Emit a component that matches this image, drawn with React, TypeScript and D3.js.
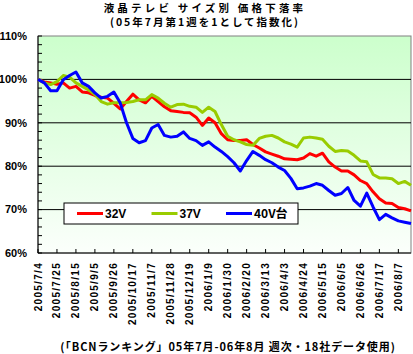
import * as d3 from 'd3'

// weekly index (2005/7/4 = 1.0), labels shown every 3 weeks
const tickLabels = [
  '2005/7/4', '2005/7/25', '2005/8/15', '2005/9/5', '2005/9/26', '2005/10/17', '2005/11/7',
  '2005/11/28', '2005/12/19', '2006/1/9', '2006/1/30', '2006/2/20', '2006/3/13', '2006/4/3',
  '2006/4/24', '2006/5/15', '2006/6/5', '2006/6/26', '2006/7/17', '2006/8/7',
]
const tickEvery = 3
const yTicks = [60, 70, 80, 90, 100, 110]

const s32 = [
  100, 99.4, 99.2, 98.9, 99.2, 98.0, 98.4, 97.1, 96.9, 96.3,
  95.9, 95.7, 94.5, 93.2, 94.9, 96.6, 95.3, 94.6, 96.1, 94.9,
  93.7, 92.8, 92.6, 92.4, 92.3, 91.3, 89.4, 91.1, 90.0, 87.5,
  86.1, 85.9, 85.9, 86.1, 85.0, 84.2, 83.3, 82.8, 82.3, 81.7,
  81.6, 81.5, 81.9, 82.9, 82.3, 83.0, 81.0, 79.8, 78.9, 78.9,
  78.0, 76.7, 76.0, 74.1, 72.5, 71.5, 71.4, 70.5, 70.2, 69.7,
]
const s37 = [
  100, 99.2, 98.8, 99.5, 100.9, 100.5, 99.2, 98.4, 97.6, 96.5,
  94.9, 94.3, 94.6, 94.6, 94.7, 94.9, 95.3, 95.3, 96.5, 95.7,
  94.5, 93.6, 94.2, 94.3, 93.8, 93.6, 92.4, 93.6, 92.6, 89.6,
  86.9, 86.1, 85.6, 85.0, 84.8, 86.4, 86.9, 87.1, 86.5, 85.6,
  85.1, 84.4, 86.5, 86.7, 86.5, 86.2, 84.6, 83.4, 83.6, 83.5,
  82.5, 81.2, 81.0, 78.1, 77.3, 77.3, 77.1, 76.0, 76.5, 75.6,
]
const s40 = [
  100, 99.2, 97.4, 97.4, 99.9, 100.9, 101.7, 99.2, 98.4, 96.9,
  95.7, 96.1, 97.1, 94.6, 90.0, 86.4, 85.4, 85.9, 88.8, 89.6,
  87.1, 86.7, 86.9, 87.9, 86.4, 85.9, 84.8, 85.6, 84.4, 83.4,
  82.2, 80.8, 78.9, 81.3, 83.4, 82.5, 81.5, 80.8, 79.8, 79.0,
  77.2, 74.8, 75.0, 75.4, 76.0, 75.6, 74.4, 73.3, 73.7, 75.1,
  72.1, 70.8, 73.8, 70.6, 67.7, 68.9, 68.1, 67.4, 67.1, 66.8,
]
const seriesNames = ['32V', '37V', '40V台']
const seriesColors = ['#ff0000', '#99cc00', '#0000ff']

const jp = '"Noto Sans CJK JP", sans-serif'
const latin = '"Liberation Sans", Arial, sans-serif'

export default function App() {
  const width = 413
  const height = 354
  const plot = { left: 38, right: 411, top: 36, bottom: 253 }

  const series = [s32, s37, s40]
  const x = d3.scaleLinear().domain([0, s32.length - 1]).range([plot.left, plot.right])
  const y = d3.scaleLinear().domain([60, 110]).range([plot.bottom, plot.top])
  const line = d3.line<number>().x((_, i) => x(i)).y(d => y(d))
  const minorTicks = d3.range(60, 110.1, 2)

  // legend layout
  const legend = { x: 64, y: 203, w: 234, h: 21 }
  const legendX = d3.scaleLinear().domain([0, 1]).range([legend.x + 13, legend.x + 13 + 74.5])

  return (
    <svg width={width} height={height} style={{ position: 'absolute', left: 0, top: 0, background: '#fff' }}>
      <defs>
        <linearGradient id="bg" x1="0" y1="0" x2="0" y2="1">
          <stop offset="0" stopColor="#ccffcc" />
          <stop offset="1" stopColor="#fbfffb" />
        </linearGradient>
      </defs>

      <text x={205} y={12} textAnchor="middle" fontFamily={jp} fontWeight="bold" fontSize={10.5} letterSpacing={3.2}>
        液晶テレビ サイズ別 価格下落率
      </text>
      <text x={205} y={25.5} textAnchor="middle" fontFamily={jp} fontWeight="bold" fontSize={10.5} letterSpacing={2}>
        (05年7月第1週を1として指数化)
      </text>

      <rect x={plot.left} y={plot.top} width={plot.right - plot.left} height={plot.bottom - plot.top}
        fill="url(#bg)" stroke="#808080" strokeWidth={1} />

      {yTicks.filter(t => t > 60 && t < 110).map(t => (
        <line key={t} x1={plot.left} x2={plot.right} y1={y(t)} y2={y(t)} stroke="#000" strokeWidth={1} />
      ))}
      {minorTicks.map(t => (
        <line key={t} x1={plot.left} x2={plot.left + 4} y1={y(t)} y2={y(t)} stroke="#000" strokeWidth={1} />
      ))}
      {tickLabels.map((_, k) => (
        <line key={k} x1={x(k * tickEvery)} x2={x(k * tickEvery)} y1={plot.bottom} y2={plot.bottom - 4}
          stroke="#000" strokeWidth={1} />
      ))}

      <line x1={plot.left} x2={plot.left} y1={plot.top} y2={plot.bottom} stroke="#000" strokeWidth={1} />
      <line x1={plot.left} x2={plot.right} y1={plot.bottom} y2={plot.bottom} stroke="#000" strokeWidth={1} />

      {yTicks.map(t => (
        <text key={t} x={27} y={y(t)} dy="0.35em" textAnchor="end" fontFamily={latin} fontWeight="bold" fontSize={11}>
          {t}%
        </text>
      ))}

      {tickLabels.map((lab, k) => (
        <text key={lab} transform={`translate(${x(k * tickEvery)},${plot.bottom + 9}) rotate(-90)`}
          dy="0.35em" textAnchor="end" fontFamily={latin} fontWeight="bold" fontSize={10} letterSpacing={1.3}>
          {lab}
        </text>
      ))}

      {series.map((s, i) => (
        <path key={i} d={line(s) ?? ''} fill="none" stroke={seriesColors[i]} strokeWidth={3}
          strokeLinejoin="round" />
      ))}

      <rect x={legend.x} y={legend.y} width={legend.w} height={legend.h} fill="#fff" stroke="#000" strokeWidth={1} />
      {seriesNames.map((name, i) => {
        const lx = legendX(i)
        const cy = legend.y + legend.h / 2
        return (
          <g key={name}>
            <line x1={lx} x2={lx + 26} y1={cy} y2={cy} stroke={seriesColors[i]} strokeWidth={3} />
            <text x={lx + 28} y={cy} dy="0.36em" fontFamily={i === 2 ? jp : latin} fontWeight="bold" fontSize={12}>
              {name}
            </text>
          </g>
        )
      })}

      <text x={228} y={351} textAnchor="middle" fontFamily={jp} fontWeight="bold" fontSize={11} letterSpacing={0.9}>
        (「BCNランキング」05年7月-06年8月 週次・18社データ使用)
      </text>
    </svg>
  )
}
